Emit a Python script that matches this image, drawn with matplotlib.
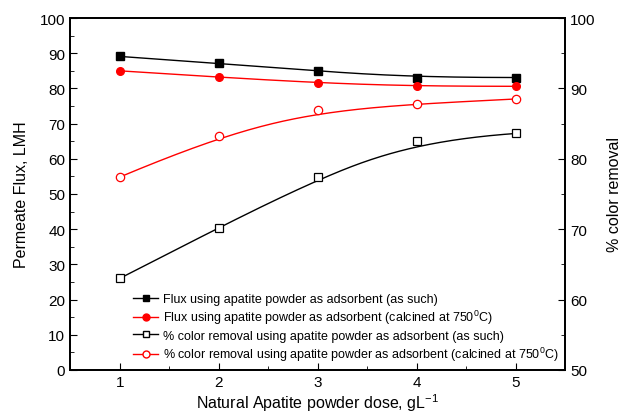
import numpy as np
import matplotlib
matplotlib.use('Agg')
import matplotlib.pyplot as plt
from matplotlib.ticker import MultipleLocator

plt.rcParams['font.family'] = ['Liberation Sans', 'DejaVu Sans']
plt.rcParams['mathtext.fontset'] = 'custom'
plt.rcParams['mathtext.rm'] = 'Liberation Sans'
plt.rcParams['mathtext.it'] = 'Liberation Sans:italic'

# data
dose = [1, 2, 3, 4, 5]
flux_such = [89.1, 87.1, 84.9, 83.1, 83.1]
flux_calc = [85.0, 83.2, 81.5, 80.6, 80.6]
removal_such = [63.0, 70.2, 77.4, 82.6, 83.6]
removal_calc = [77.4, 83.3, 87.0, 87.8, 88.5]

labels = ['Flux using apatite powder as adsorbent (as such)',
          'Flux using apatite powder as adsorbent (calcined at 750$^0$C)',
          '% color removal using apatite powder as adsorbent (as such)',
          '% color removal using apatite powder as adsorbent (calcined at 750$^0$C)']


def bspline(x, y, n=200, deg=3):
    # clamped B-spline with the data points as control points (Origin style)
    P = np.column_stack([x, y]).astype(float)
    nc = len(P)
    knots = np.concatenate([np.zeros(deg), np.arange(nc - deg + 1), np.full(deg, nc - deg)])
    t = np.linspace(0, nc - deg, n)
    t[-1] -= 1e-9

    def basis(i, k, tt):
        if k == 0:
            return np.where((knots[i] <= tt) & (tt < knots[i + 1]), 1.0, 0.0)
        out = np.zeros_like(tt)
        d1 = knots[i + k] - knots[i]
        d2 = knots[i + k + 1] - knots[i + 1]
        if d1 > 0:
            out += (tt - knots[i]) / d1 * basis(i, k - 1, tt)
        if d2 > 0:
            out += (knots[i + k + 1] - tt) / d2 * basis(i + 1, k - 1, tt)
        return out

    B = np.column_stack([basis(i, deg, t) for i in range(nc)])
    C = B @ P
    return C[:, 0], C[:, 1]


fig = plt.figure(figsize=(6.26, 4.14), dpi=100)
ax = fig.add_axes([0.112, 0.104, 0.791, 0.850])
ax2 = ax.twinx()

for y, c, m, fc in [(flux_such, 'black', 's', 'black'), (flux_calc, 'red', 'o', 'red')]:
    xs, ys = bspline(dose, y)
    ax.plot(xs, ys, color=c, lw=1)
    ax.plot(dose, y, ls='none', marker=m, ms=5.5, mfc=fc, mec=c)

for y, c, m in [(removal_such, 'black', 's'), (removal_calc, 'red', 'o')]:
    xs, ys = bspline(dose, y)
    ax2.plot(xs, ys, color=c, lw=1)
    ax2.plot(dose, y, ls='none', marker=m, ms=6, mfc='white', mec=c, mew=0.9)

handles = [
    plt.Line2D([], [], color='black', lw=1, marker='s', ms=5, mfc='black'),
    plt.Line2D([], [], color='red', lw=1, marker='o', ms=5, mfc='red'),
    plt.Line2D([], [], color='black', lw=1, marker='s', ms=5, mfc='white'),
    plt.Line2D([], [], color='red', lw=1, marker='o', ms=5, mfc='white'),
]
ax2.legend(handles, labels, loc='lower left', bbox_to_anchor=(0.105, -0.012),
           frameon=False, fontsize=9, handlelength=2.0, handletextpad=0.4,
           labelspacing=0.25)

ax.set_xlim(0.5, 5.5)
ax.set_ylim(0, 100)
ax2.set_ylim(50, 100)
ax.xaxis.set_major_locator(MultipleLocator(1))
ax.xaxis.set_minor_locator(MultipleLocator(0.5))
ax.yaxis.set_major_locator(MultipleLocator(10))
ax.yaxis.set_minor_locator(MultipleLocator(5))
ax2.yaxis.set_major_locator(MultipleLocator(10))
ax2.yaxis.set_minor_locator(MultipleLocator(5))

ax.tick_params(axis='both', which='major', direction='in', length=5, labelsize=11)
ax.tick_params(axis='both', which='minor', direction='in', length=3)
ax.tick_params(axis='x', top=False)
ax2.tick_params(which='major', direction='in', length=5, labelsize=11)
ax2.tick_params(which='minor', direction='in', length=3)

for a in (ax, ax2):
    for s in a.spines.values():
        s.set_linewidth(1.3)

ax.set_xlabel('Natural Apatite powder dose, gL$^{-1}$', fontsize=11.5, labelpad=2)
ax.set_ylabel('Permeate Flux, LMH', fontsize=11.5, labelpad=8)
ax2.set_ylabel('% color removal', fontsize=11.5, labelpad=8)

fig.savefig('out.png', dpi=100)
